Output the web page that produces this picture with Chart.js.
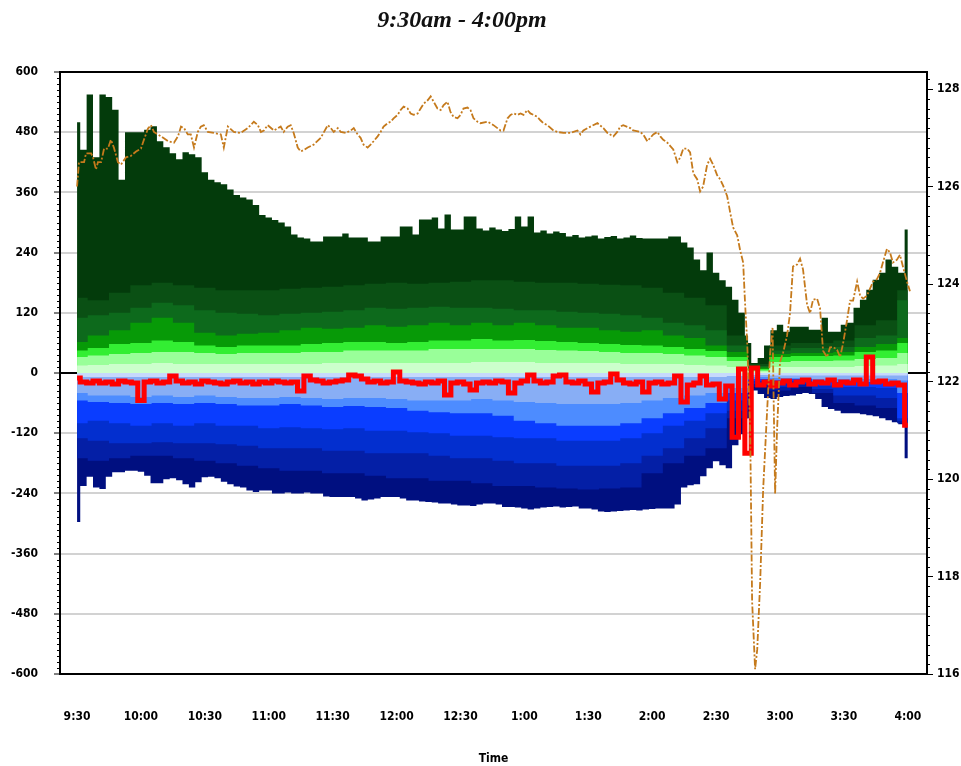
<!DOCTYPE html>
<html>
<head>
<meta charset="utf-8">
<script src="https://cdn.jsdelivr.net/npm/chart.js@4.4.1/dist/chart.umd.min.js"></script>
<style>
  html, body { margin: 0; padding: 0; background: #fff; }
  #wrap { position: relative; width: 961px; height: 766px; }
  #flowChart { position: absolute; left: 0; top: 0; }
  #title {
    position: absolute; left: 0; top: 6px; width: 924px; text-align: center;
    font: italic bold 24px 'Liberation Serif', 'Times New Roman', serif; color: #111;
  }
</style>
</head>
<body>
<div id="wrap">
  <canvas id="flowChart" width="961" height="766"></canvas>
  <div id="title">9:30am - 4:00pm</div>
</div>
<script>
// ── time axis (minutes after 9:30) ──────────────────────────────
const tickMinutes = [0, 30, 60, 90, 120, 150, 180, 210, 240, 270, 300, 330, 360, 390];
const tickLabels  = ['9:30', '10:00', '10:30', '11:00', '11:30', '12:00', '12:30',
                     '1:00', '1:30', '2:00', '2:30', '3:00', '3:30', '4:00'];
const gridTimes  = Array.from({ length: 131 }, (_, i) => i * 3);   // 3-min bars
const layerTimes = Array.from({ length: 40 },  (_, i) => i * 10);  // 10-min bars

// ── outer envelopes, 3-min bars ─────────────────────────────────
const greenTop = [
    500, 445, 555, 430, 555, 550, 525, 385, 480, 480,
    480, 485, 492, 462, 450, 438, 426, 440, 436, 430,
    400, 385, 380, 376, 366, 355, 350, 346, 335, 315,
    310, 305, 300, 292, 276, 270, 268, 262, 262, 272,
    272, 272, 278, 270, 270, 270, 262, 262, 272, 272,
    272, 292, 292, 276, 306, 306, 310, 288, 316, 286,
    286, 312, 312, 288, 284, 290, 286, 283, 287, 312,
    292, 312, 280, 284, 278, 282, 279, 272, 275, 270,
    272, 274, 268, 271, 273, 268, 270, 274, 269, 268,
    268, 268, 268, 272, 272, 260, 250, 226, 205, 240,
    200, 185, 172, 146, 120, 60, 20, 30, 55, 85,
    96, 82, 92, 92, 92, 86, 86, 110, 82, 82,
    96, 100, 130, 146, 166, 186, 200, 226, 212, 200,
    286,
];
const blueBottom = [
    -297, -225, -207, -228, -231, -207, -198, -198, -195, -195,
    -197, -205, -220, -220, -212, -210, -214, -222, -228, -218,
    -208, -207, -210, -217, -222, -226, -228, -234, -237, -234,
    -234, -240, -240, -238, -240, -240, -238, -240, -240, -246,
    -247, -247, -247, -247, -250, -254, -252, -250, -247, -247,
    -247, -250, -254, -254, -256, -257, -258, -260, -260, -262,
    -264, -264, -265, -262, -260, -260, -262, -267, -267, -268,
    -270, -272, -270, -268, -267, -266, -268, -267, -266, -270,
    -270, -272, -276, -277, -276, -275, -274, -273, -274, -272,
    -271, -270, -270, -270, -262, -228, -224, -222, -206, -190,
    -176, -184, -190, -144, -122, -90, -35, -42, -50, -52,
    -48, -46, -45, -42, -40, -42, -52, -68, -72, -75,
    -80, -80, -80, -82, -84, -86, -90, -94, -98, -102,
    -170,
];
const netLine = [
    -10, -18, -20, -16, -20, -18, -22, -16, -18, -20,
    -55, -18, -16, -20, -18, -6, -16, -20, -18, -22,
    -16, -18, -20, -22, -18, -16, -20, -18, -22, -18,
    -20, -16, -18, -20, -18, -36, -6, -14, -16, -20,
    -18, -16, -14, -4, -6, -12, -18, -16, -20, -18,
    2, -16, -18, -20, -22, -18, -20, -16, -44, -20,
    -18, -22, -34, -20, -18, -20, -16, -18, -40, -20,
    -16, -4, -16, -20, -18, -6, -4, -18, -20, -16,
    -22, -38, -20, -18, -2, -14, -20, -22, -18, -38,
    -20, -18, -22, -20, -6, -58, -24, -20, -6, -24,
    -22, -52, -26, -128, 8, -160, 10, -24, -18, -26,
    -20, -16, -24, -18, -14, -22, -18, -20, -14, -24,
    -18, -20, -14, -22, 32, -18, -16, -22, -20, -24,
    -104,
];

// ── inner bands, 10-min bars (level of each band's edge) ─────────
const green2 = [150, 145, 160, 175, 180, 175, 170, 165, 165, 165, 168, 170, 172, 175, 178, 180, 178, 180, 182, 185,
                185, 182, 180, 180, 178, 176, 175, 170, 160, 150, 135, 75, 18, 55, 60, 60, 65, 95, 105, 165];
const green3 = [110, 115, 120, 130, 140, 135, 125, 120, 118, 115, 118, 120, 122, 125, 130, 128, 130, 132, 130, 130,
                128, 125, 125, 122, 120, 118, 115, 110, 100, 95, 85, 55, 14, 45, 50, 50, 52, 70, 75, 145];
const green4 = [62, 75, 85, 100, 110, 100, 80, 75, 78, 80, 85, 90, 88, 90, 95, 92, 95, 100, 95, 100,
                95, 100, 95, 90, 90, 85, 82, 85, 75, 70, 55, 42, 11, 38, 40, 40, 42, 52, 58, 70];
const green5 = [45, 50, 58, 60, 65, 62, 55, 52, 55, 55, 55, 58, 60, 62, 62, 60, 62, 65, 65, 68,
                65, 66, 64, 62, 60, 58, 56, 55, 52, 48, 44, 32, 8, 32, 34, 34, 35, 42, 45, 60];
const green6 = [32, 35, 38, 40, 42, 42, 40, 38, 40, 40, 40, 42, 42, 45, 45, 45, 45, 48, 48, 48,
                48, 48, 46, 45, 44, 42, 40, 40, 38, 35, 32, 24, 5, 22, 24, 24, 25, 28, 30, 40];
const green7 = [15, 16, 18, 18, 20, 18, 18, 18, 18, 18, 18, 18, 20, 20, 20, 20, 20, 20, 20, 22,
                22, 22, 20, 20, 20, 20, 18, 18, 18, 16, 15, 12, 3, 12, 12, 12, 12, 14, 15, 18];

const blue1 = [-8, -8, -8, -8, -8, -8, -8, -8, -8, -8, -8, -8, -8, -8, -8, -8, -8, -8, -8, -8,
               -8, -8, -8, -8, -8, -8, -8, -8, -8, -8, -8, -6, -4, -5, -5, -5, -5, -5, -5, -5];
const blue2 = [-40, -45, -45, -48, -45, -48, -45, -48, -50, -50, -48, -50, -52, -50, -50, -52, -55, -55, -55, -52,
               -55, -58, -60, -62, -62, -62, -60, -55, -50, -45, -40, -30, -8, -10, -10, -12, -12, -12, -12, -15];
const blue3 = [-55, -58, -60, -62, -60, -62, -60, -62, -65, -65, -62, -65, -68, -66, -68, -70, -75, -78, -80, -80,
               -85, -95, -100, -105, -105, -105, -100, -90, -80, -70, -60, -40, -12, -15, -12, -18, -18, -18, -20, -40];
const blue4 = [-100, -95, -100, -105, -100, -105, -100, -105, -105, -110, -108, -110, -112, -110, -115, -115, -118, -120, -125, -125,
               -128, -130, -130, -135, -135, -135, -130, -120, -105, -95, -80, -55, -16, -20, -16, -25, -28, -28, -30, -90];
const blue5 = [-130, -135, -140, -140, -138, -140, -140, -142, -145, -150, -150, -150, -155, -155, -160, -160, -160, -165, -170, -170,
               -175, -180, -180, -185, -185, -185, -180, -165, -150, -130, -110, -75, -22, -28, -22, -32, -45, -45, -50, -95];
const blue6 = [-170, -175, -170, -165, -165, -170, -175, -180, -185, -190, -195, -195, -200, -200, -205, -210, -210, -215, -215, -220,
               -225, -225, -228, -230, -232, -230, -228, -200, -180, -165, -150, -90, -28, -35, -28, -40, -60, -65, -70, -100];

// ── price (right axis) ──────────────────────────────────────────
const priceTimes = [
    0, 0.9, 3.3, 4.2, 6.6, 7.5, 8.9, 9.8, 11.3, 12.7, 14.5, 15.9, 17.3, 19.2, 20.6, 23, 25.3, 27.7, 30, 31.4,
    33.3, 34.7, 36.1, 39.4, 42.7, 45.5, 47.4, 48.8, 50.2, 52, 53.4, 54.9, 56.7, 58.1, 59.5, 61.4, 64.2, 67.5, 68.9, 70.8,
    73.6, 76.9, 80.2, 83, 84.9, 86.3, 87.7, 89.5, 92.4, 95.6, 97, 98.9, 100.3, 101.7, 103.6, 105, 106.4, 108.3, 111.1, 114.4,
    117.7, 119.1, 120.5, 122.4, 123.8, 126.1, 128.5, 129.9, 131.7, 133.1, 134.5, 136.4, 137.8, 139.2, 141.1, 142.5, 143.9, 145.8, 147.2, 148.6,
    150.5, 151.9, 153.3, 155.2, 156.6, 158, 159.9, 161.3, 162.7, 164.6, 166, 167.4, 169.2, 170.7, 172.1, 173.9, 175.3, 176.7, 178.6, 180,
    181.4, 183.3, 184.7, 186.1, 188, 189.4, 192.7, 195.5, 198.8, 200.2, 202.1, 203.5, 204.9, 206.8, 208.2, 209.6, 211.4, 212.8, 214.3, 216.1,
    217.5, 218.9, 220.8, 223.6, 225.5, 228.3, 231.6, 234.9, 236.3, 237.7, 241, 244.3, 247.1, 249, 251.8, 253.6, 255, 256.4, 259.7, 261.1,
    264.4, 265.8, 267.7, 269.1, 270.5, 272.4, 273.8, 275.2, 277.1, 278.5, 279.9, 281.8, 283.2, 284.6, 286.4, 287.8, 289.3, 291.1, 292.5, 293.9,
    295.8, 297.2, 298.6, 300.5, 301.9, 303.3, 305.2, 306.6, 308, 309.9, 311.3, 312.7, 313.6, 314.6, 316, 316.9, 318.3, 319.3, 320.7, 322.1,
    324, 325.4, 326.5, 327.7, 328.6, 330, 331.5, 333.3, 334.7, 336.1, 338, 339.4, 340.8, 342.7, 344.1, 345.5, 347.4, 348.8, 350.2, 352.1,
    353.5, 354.9, 356.8, 358.2, 359.6, 361.5, 362.9, 364.3, 366.2, 367.6, 369, 370.8, 372.2, 373.7, 375.5, 376.9, 378.3, 380.2, 381.6, 383,
    384.9, 386.3, 387.7, 389.6, 391,
];
const priceValues = [
    126.0, 126.5, 126.5, 126.68, 126.68, 126.6, 126.35, 126.5, 126.5, 126.78, 126.78, 126.96, 126.8, 126.5, 126.45, 126.6, 126.63, 126.72, 126.78, 126.96,
    127.19, 127.26, 127.12, 127.03, 126.93, 126.9, 127.03, 127.23, 127.2, 127.07, 127.07, 126.8, 127.12, 127.23, 127.26, 127.12, 127.1, 127.07, 126.8, 127.23,
    127.12, 127.1, 127.2, 127.33, 127.26, 127.12, 127.15, 127.26, 127.15, 127.23, 127.12, 127.23, 127.26, 127.1, 126.8, 126.72, 126.75, 126.8, 126.86, 127.0,
    127.26, 127.2, 127.12, 127.2, 127.12, 127.1, 127.15, 127.2, 127.07, 127.0, 126.86, 126.8, 126.86, 126.93, 127.03, 127.12, 127.23, 127.3, 127.33, 127.4,
    127.47, 127.57, 127.64, 127.6, 127.5, 127.47, 127.5, 127.6, 127.7, 127.77, 127.85, 127.74, 127.6, 127.57, 127.67, 127.74, 127.53, 127.43, 127.4, 127.47,
    127.6, 127.62, 127.57, 127.4, 127.33, 127.3, 127.33, 127.26, 127.15, 127.15, 127.4, 127.47, 127.5, 127.47, 127.5, 127.47, 127.57, 127.5, 127.47, 127.43,
    127.36, 127.3, 127.26, 127.15, 127.12, 127.1, 127.1, 127.15, 127.07, 127.15, 127.23, 127.3, 127.2, 127.1, 127.03, 127.12, 127.23, 127.26, 127.2, 127.15,
    127.12, 127.07, 126.93, 127.0, 127.07, 127.12, 127.03, 126.96, 126.9, 126.83, 126.76, 126.5, 126.6, 126.78, 126.78, 126.7, 126.27, 126.15, 125.9, 126.0,
    126.45, 126.57, 126.45, 126.23, 126.15, 126.02, 125.8, 125.47, 125.16, 125.0, 124.69, 124.44, 123.6, 122.8, 121.0, 117.5, 116.1, 116.5, 117.9, 119.8,
    121.45, 122.6, 123.1, 119.7, 121.0, 122.4, 122.6, 122.94, 123.4, 124.36, 124.4, 124.52, 124.3, 123.58, 123.4, 123.68, 123.7, 123.5, 122.63, 122.5,
    122.7, 122.71, 122.65, 122.5, 122.78, 123.27, 123.66, 123.66, 124.05, 123.76, 123.7, 123.76, 123.9, 124.05, 124.1, 124.22, 124.44, 124.72, 124.65, 124.44,
    124.5, 124.6, 124.36, 124.05, 123.85,
];
const priceTicks = [116, 118, 120, 122, 124, 126, 128];

// ─────────────────────────────────────────────────────────────────
const pts = (times, vals) => vals.map((v, i) => ({ x: times[i], y: v }));
const tickFont = { family: "'Liberation Sans Narrow', 'DejaVu Sans Condensed', 'Liberation Sans', sans-serif", size: 12, weight: 'bold' };

function band(label, times, vals, color, order) {
    return {
        label, data: pts(times, vals), yAxisID: 'y', order,
        backgroundColor: color, borderColor: color, borderWidth: 0,
        pointRadius: 0, fill: 'origin', stepped: 'middle',
    };
}

// minor ticks + black frame round the plot
const frameTicks = {
    id: 'frameTicks',
    afterDraw(chart) {
        const { ctx, chartArea: a, scales } = chart;
        ctx.save();
        ctx.strokeStyle = '#000';
        ctx.lineWidth = 1;
        ctx.beginPath();
        for (let v = -600; v <= 600; v += 12) {
            if (v % 120 === 0) continue;
            const py = Math.round(scales.y.getPixelForValue(v)) + 0.5;
            ctx.moveTo(a.left - 3, py); ctx.lineTo(a.left, py);
        }
        for (let k = 1; k < 62; k++) {
            if (k % 10 === 0) continue;
            const v = 116 + k * 0.2;
            if (v > scales.y2.max) break;
            const py = Math.round(scales.y2.getPixelForValue(v)) + 0.5;
            ctx.moveTo(a.right, py); ctx.lineTo(a.right + 3, py);
        }
        ctx.stroke();
        ctx.lineWidth = 2;
        ctx.strokeRect(a.left, a.top, a.right - a.left, a.bottom - a.top);
        ctx.restore();
    },
};

new Chart(document.getElementById('flowChart'), {
    type: 'line',
    data: {
        datasets: [
            {
                label: 'Price', data: pts(priceTimes, priceValues), yAxisID: 'y2', order: 0,
                borderColor: '#c57a1c', borderWidth: 1.8, borderDash: [7, 2, 2, 2],
                pointRadius: 0, fill: false, tension: 0,
            },
            {
                label: 'Net', data: pts(gridTimes, netLine), yAxisID: 'y', order: 1,
                borderColor: '#ff0000', borderWidth: 5, borderJoinStyle: 'miter', borderCapStyle: 'butt',
                pointRadius: 0, fill: false, stepped: 'middle',
            },
            band('G7', layerTimes, green7, '#ccffcc', 2),
            band('G6', layerTimes, green6, '#99ff99', 3),
            band('G5', layerTimes, green5, '#33ee33', 4),
            band('G4', layerTimes, green4, '#079a07', 5),
            band('G3', layerTimes, green3, '#0d6a1c', 6),
            band('G2', layerTimes, green2, '#0a5014', 7),
            band('G1', gridTimes, greenTop, '#033b0b', 8),
            band('B1', layerTimes, blue1, '#c6d9fc', 2),
            band('B2', layerTimes, blue2, '#88aef5', 3),
            band('B3', layerTimes, blue3, '#4d8cff', 4),
            band('B4', layerTimes, blue4, '#0a3dff', 5),
            band('B5', layerTimes, blue5, '#032fcf', 6),
            band('B6', layerTimes, blue6, '#041fa6', 7),
            band('B7', gridTimes, blueBottom, '#000f80', 8),
        ],
    },
    options: {
        responsive: false,
        animation: false,
        devicePixelRatio: 1,
        layout: { padding: { top: 72, left: 0, right: 0, bottom: 0 } },
        plugins: { legend: { display: false }, tooltip: { enabled: false }, title: { display: false } },
        scales: {
            x: {
                type: 'linear', min: -8, max: 399,
                afterBuildTicks: s => { s.ticks = tickMinutes.map(v => ({ value: v })); },
                afterFit: s => { s.height = 92; },
                grid: { display: false, drawTicks: false },
                border: { display: false },
                ticks: {
                    padding: 36, color: '#000', font: tickFont, maxRotation: 0, autoSkip: false,
                    callback: v => { const i = tickMinutes.indexOf(v); return i >= 0 ? tickLabels[i] : ''; },
                },
                title: { display: true, text: 'Time', color: '#000', font: tickFont, padding: { top: 0, bottom: 0 } },
            },
            y: {
                position: 'left', min: -600, max: 600,
                afterFit: s => { s.width = 60; },
                border: { display: false },
                grid: {
                    color: c => c.tick.value === 0 ? '#000' : (Math.abs(c.tick.value) === 600 ? 'rgba(0,0,0,0)' : '#d2d2d2'),
                    lineWidth: 2, tickColor: '#000', tickLength: 6, tickWidth: 1,
                },
                ticks: { stepSize: 120, padding: 16, color: '#000', font: tickFont },
            },
            y2: {
                position: 'right', min: 116, max: 128.35,
                afterBuildTicks: s => { s.ticks = priceTicks.map(v => ({ value: v })); },
                afterFit: s => { s.width = 34; },
                border: { display: false },
                grid: { drawOnChartArea: false, color: '#000', tickColor: '#000', tickLength: 6, tickWidth: 1 },
                ticks: { padding: 4, color: '#000', font: tickFont },
            },
        },
    },
    plugins: [frameTicks],
});
</script>
</body>
</html>
